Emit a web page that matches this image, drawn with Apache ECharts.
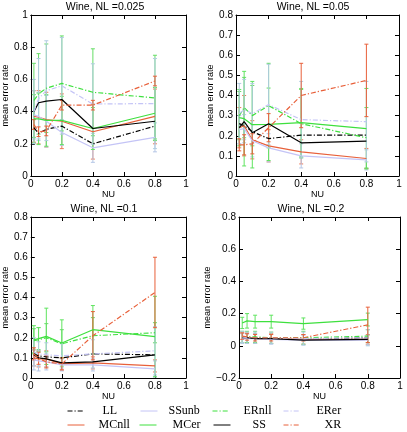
<!DOCTYPE html>
<html><head><meta charset="utf-8">
<script src="https://cdn.jsdelivr.net/npm/echarts@6/dist/echarts.min.js"></script>
<style>html,body{margin:0;padding:0;background:#fff}#c{width:407px;height:432px}</style>
</head><body><div id="c"></div>
<script>
// ---------- data ----------
const NU = [0.02, 0.05, 0.1, 0.2, 0.4, 0.8];
const seriesNames = ['LL', 'MCnll', 'SSunb', 'MCer', 'ERnll', 'SS', 'ERer', 'XR'];
const titles = ['Wine, NL =0.025', 'Wine, NL =0.05', 'Wine, NL =0.1', 'Wine, NL =0.2'];
const xTicks = [0, 0.2, 0.4, 0.6, 0.8, 1];
const yTicksA = [0, 0.2, 0.4, 0.6, 0.8, 1];
const yTicksB = [0, 0.1, 0.2, 0.3, 0.4, 0.5, 0.6, 0.7, 0.8];
const yTicksC = [0, 0.1, 0.2, 0.3, 0.4, 0.5, 0.6, 0.7, 0.8];
const yTicksD = [-0.2, 0, 0.2, 0.4, 0.6, 0.8];

// NL = 0.025 (means)
const LL_1    = [0.30, 0.265, 0.29, 0.31, 0.20, 0.31];
const MCnll_1 = [0.37, 0.365, 0.35, 0.34, 0.275, 0.37];
const SSunb_1 = [0.38, 0.37, 0.34, 0.27, 0.175, 0.24];
const MCer_1  = [0.355, 0.355, 0.345, 0.345, 0.295, 0.39];
const ERnll_1 = [0.47, 0.51, 0.545, 0.575, 0.52, 0.485];
const SS_1    = [0.40, 0.455, 0.465, 0.475, 0.295, 0.34];
const ERer_1  = [0.40, 0.48, 0.53, 0.56, 0.447, 0.45];
const XR_1    = [0.32, 0.275, 0.28, 0.44, 0.44, 0.59];
// NL = 0.025 (error half-widths)
const e_MCnll_1 = [0.16, 0.165, 0.17, 0.17, 0.17, 0.17];
const e_SSunb_1 = [0.15, 0.15, 0.16, 0.08, 0.09, 0.09];
const e_MCer_1  = [0.15, 0.16, 0.16, 0.15, 0.13, 0.16];
const e_ERnll_1 = [0.23, 0.25, 0.275, 0.295, 0.27, 0.265];
const e_ERer_1  = [0.20, 0.25, 0.31, 0.30, 0.25, 0.28];
const e_XR_1    = [0.03, 0.03, 0.03, 0.03, 0.03, 0.03];

// NL = 0.05
const LL_2    = [0.26, 0.25, 0.22, 0.186, 0.203, 0.203];
const MCnll_2 = [0.24, 0.25, 0.18, 0.15, 0.12, 0.087];
const SSunb_2 = [0.23, 0.235, 0.175, 0.14, 0.10, 0.08];
const MCer_2  = [0.29, 0.285, 0.255, 0.257, 0.265, 0.235];
const ERnll_2 = [0.30, 0.34, 0.30, 0.35, 0.26, 0.19];
const SS_2    = [0.24, 0.27, 0.215, 0.26, 0.165, 0.173];
const ERer_2  = [0.31, 0.33, 0.31, 0.355, 0.28, 0.27];
const XR_2    = [0.155, 0.155, 0.16, 0.24, 0.40, 0.475];
const e_MCnll_2 = [0.10, 0.15, 0.095, 0.08, 0.06, 0.05];
const e_SSunb_2 = [0.07, 0.07, 0.08, 0.07, 0.06, 0.05];
const e_MCer_2  = [0.14, 0.235, 0.215, 0.18, 0.17, 0.20];
const e_ERnll_2 = [0.12, 0.15, 0.15, 0.21, 0.17, 0.15];
const e_ERer_2  = [0.15, 0.15, 0.15, 0.20, 0.19, 0.20];
const e_XR_2    = [0.03, 0.05, 0.05, 0.07, 0.16, 0.18];

// NL = 0.1
const LL_3    = [0.12, 0.11, 0.105, 0.10, 0.12, 0.115];
const MCnll_3 = [0.10, 0.095, 0.095, 0.07, 0.075, 0.06];
const SSunb_3 = [0.09, 0.085, 0.08, 0.065, 0.065, 0.045];
const MCer_3  = [0.19, 0.196, 0.207, 0.174, 0.24, 0.206];
const ERnll_3 = [0.185, 0.19, 0.20, 0.17, 0.21, 0.225];
const SS_3    = [0.115, 0.10, 0.095, 0.075, 0.08, 0.115];
const ERer_3  = [0.13, 0.12, 0.115, 0.11, 0.12, 0.135];
const XR_3    = [0.12, 0.098, 0.08, 0.07, 0.21, 0.425];
const e_MCnll_3 = [0.04, 0.04, 0.04, 0.03, 0.03, 0.03];
const e_SSunb_3 = [0.05, 0.05, 0.04, 0.03, 0.03, 0.04];
const e_MCer_3  = [0.07, 0.055, 0.14, 0.115, 0.12, 0.20];
const e_ERnll_3 = [0.06, 0.06, 0.07, 0.07, 0.09, 0.05];
const e_ERer_3  = [0.07, 0.06, 0.06, 0.06, 0.07, 0.12];
const e_XR_3    = [0.03, 0.03, 0.03, 0.03, 0.12, 0.175];

// NL = 0.2
const LL_4    = [0.05, 0.05, 0.05, 0.045, 0.04, 0.05];
const MCnll_4 = [0.05, 0.05, 0.045, 0.045, 0.04, 0.04];
const SSunb_4 = [0.045, 0.045, 0.045, 0.04, 0.035, 0.035];
const MCer_4  = [0.142, 0.155, 0.15, 0.15, 0.138, 0.163];
const ERnll_4 = [0.055, 0.055, 0.055, 0.05, 0.05, 0.06];
const SS_4    = [0.05, 0.05, 0.045, 0.045, 0.035, 0.04];
const ERer_4  = [0.055, 0.05, 0.05, 0.05, 0.045, 0.05];
const XR_4    = [0.06, 0.055, 0.05, 0.05, 0.05, 0.13];
const e_MCnll_4 = [0.03, 0.03, 0.03, 0.03, 0.03, 0.03];
const e_SSunb_4 = [0.03, 0.03, 0.03, 0.03, 0.03, 0.03];
const e_MCer_4  = [0.035, 0.045, 0.04, 0.04, 0.035, 0.04];
const e_ERnll_4 = [0.035, 0.035, 0.035, 0.035, 0.04, 0.04];
const e_ERer_4  = [0.035, 0.035, 0.035, 0.035, 0.04, 0.05];
const e_XR_4    = [0.02, 0.02, 0.02, 0.02, 0.02, 0.11];

const panelMeans = [
  {LL: LL_1, MCnll: MCnll_1, SSunb: SSunb_1, MCer: MCer_1, ERnll: ERnll_1, SS: SS_1, ERer: ERer_1, XR: XR_1},
  {LL: LL_2, MCnll: MCnll_2, SSunb: SSunb_2, MCer: MCer_2, ERnll: ERnll_2, SS: SS_2, ERer: ERer_2, XR: XR_2},
  {LL: LL_3, MCnll: MCnll_3, SSunb: SSunb_3, MCer: MCer_3, ERnll: ERnll_3, SS: SS_3, ERer: ERer_3, XR: XR_3},
  {LL: LL_4, MCnll: MCnll_4, SSunb: SSunb_4, MCer: MCer_4, ERnll: ERnll_4, SS: SS_4, ERer: ERer_4, XR: XR_4}
];
const panelErrs = [
  {MCnll: e_MCnll_1, SSunb: e_SSunb_1, MCer: e_MCer_1, ERnll: e_ERnll_1, ERer: e_ERer_1, XR: e_XR_1},
  {MCnll: e_MCnll_2, SSunb: e_SSunb_2, MCer: e_MCer_2, ERnll: e_ERnll_2, ERer: e_ERer_2, XR: e_XR_2},
  {MCnll: e_MCnll_3, SSunb: e_SSunb_3, MCer: e_MCer_3, ERnll: e_ERnll_3, ERer: e_ERer_3, XR: e_XR_3},
  {MCnll: e_MCnll_4, SSunb: e_SSunb_4, MCer: e_MCer_4, ERnll: e_ERnll_4, ERer: e_ERer_4, XR: e_XR_4}
];
const yTickSets = [yTicksA, yTicksB, yTicksC, yTicksD];

// ---------- styles / layout ----------
const RED = '#e8603a', GREEN = '#3ee03e', LAV = '#c4c4f6', BLACK = '#000';
const DASHDOT = [5, 2, 1.2, 2];
const styleOf = {
  LL:    {color: BLACK, type: DASHDOT, err: '#555'},
  MCnll: {color: RED,   type: 'solid', err: '#ec7a58'},
  SSunb: {color: LAV,   type: 'solid', err: '#b4c6e6'},
  MCer:  {color: GREEN, type: 'solid', err: '#5fe45f'},
  ERnll: {color: GREEN, type: DASHDOT, err: '#66dd66'},
  SS:    {color: BLACK, type: 'solid', err: '#333'},
  ERer:  {color: LAV,   type: DASHDOT, err: '#b0cce0'},
  XR:    {color: RED,   type: DASHDOT, err: '#e8603a'}
};
const grids = [
  {left: 26, top: 15, width: 160, height: 161},
  {left: 236, top: 15, width: 163, height: 161},
  {left: 26, top: 217, width: 160, height: 161},
  {left: 239, top: 217, width: 161, height: 161}
];
const titlePos = [[105, 2], [313, 2], [104, 204], [311, 204]];
const yNameGap = [17, 19, 17, 20];
const SANS = 'Liberation Sans';

function fmt(v) {
  const s = String(Math.round(v * 1000) / 1000);
  return s.replace('-', '\u2212');
}

const xAxis = [], yAxis = [], series = [], title = [];
grids.forEach((g, i) => {
  const yt = yTickSets[i];
  const ymin = yt[0], ymax = yt[yt.length - 1], yint = yt[1] - yt[0];
  const xint = xTicks[1] - xTicks[0];
  const axLine = {show: true, onZero: false, lineStyle: {color: BLACK, width: 1}};
  const tick = {show: true, inside: true, length: 4, lineStyle: {color: BLACK, width: 1}};
  xAxis.push({
    type: 'value', gridIndex: i, min: xTicks[0], max: xTicks[xTicks.length - 1], interval: xint,
    axisLine: axLine, axisTick: tick, splitLine: {show: false},
    axisLabel: {color: BLACK, fontSize: 10, fontFamily: SANS, margin: 3, formatter: fmt},
    name: 'NU', nameLocation: 'middle', nameGap: 13,
    nameTextStyle: {color: BLACK, fontSize: 9, fontFamily: SANS}
  });
  xAxis.push({
    type: 'value', gridIndex: i, position: 'top', min: xTicks[0], max: xTicks[xTicks.length - 1], interval: xint,
    axisLine: axLine, axisTick: tick, splitLine: {show: false}, axisLabel: {show: false}
  });
  yAxis.push({
    type: 'value', gridIndex: i, min: ymin, max: ymax, interval: yint,
    axisLine: axLine, axisTick: tick, splitLine: {show: false},
    axisLabel: {color: BLACK, fontSize: 10, fontFamily: SANS, margin: 3, formatter: fmt},
    name: 'mean error rate', nameLocation: 'middle', nameGap: yNameGap[i], nameRotate: 90,
    nameTextStyle: {color: BLACK, fontSize: 9, fontFamily: SANS}
  });
  yAxis.push({
    type: 'value', gridIndex: i, position: 'right', min: ymin, max: ymax, interval: yint,
    axisLine: axLine, axisTick: tick, splitLine: {show: false}, axisLabel: {show: false}
  });
  title.push({
    text: titles[i], left: titlePos[i][0], top: titlePos[i][1], textAlign: 'center', padding: 0,
    textStyle: {fontSize: 10.5, fontWeight: 'normal', color: BLACK, fontFamily: SANS}
  });

  seriesNames.forEach(name => {
    const st = styleOf[name];
    const means = panelMeans[i][name];
    const errs = panelErrs[i][name];
    if (errs) {
      series.push({
        type: 'custom', xAxisIndex: 2 * i, yAxisIndex: 2 * i, silent: true,
        data: NU.map((x, k) => [x, means[k] - errs[k], means[k] + errs[k]]),
        encode: {x: 0, y: [1, 2]},
        renderItem: (params, api) => {
          const x = api.value(0);
          const lo = api.coord([x, api.value(1)]);
          const hi = api.coord([x, api.value(2)]);
          const s = {stroke: st.err, lineWidth: 1};
          const c = 2;
          return {type: 'group', children: [
            {type: 'line', shape: {x1: lo[0], y1: lo[1], x2: hi[0], y2: hi[1]}, style: s},
            {type: 'line', shape: {x1: lo[0] - c, y1: lo[1], x2: lo[0] + c, y2: lo[1]}, style: s},
            {type: 'line', shape: {x1: hi[0] - c, y1: hi[1], x2: hi[0] + c, y2: hi[1]}, style: s}
          ]};
        }
      });
    }
    series.push({
      name: name, type: 'line', xAxisIndex: 2 * i, yAxisIndex: 2 * i,
      data: NU.map((x, k) => [x, means[k]]),
      symbol: 'none', animation: false,
      lineStyle: {color: st.color, width: 1.2, type: st.type},
      itemStyle: {color: st.color}
    });
  });
});

// legends: one per entry, two rows of four
const legendRows = [['LL', 'SSunb', 'ERnll', 'ERer'], ['MCnll', 'MCer', 'SS', 'XR']];
const legendLineStart = [[67, 140, 212, 283], [67, 139, 213, 283]];
const legendTextStart = [[102, 168, 243, 316], [98, 172, 252, 324]];
const legendTop = [405, 419];
const legend = [];
legendRows.forEach((row, r) => {
  row.forEach((name, c) => {
    const left = legendLineStart[r][c];
    const pad = legendTextStart[r][c] - (left + 17 + 5);
    legend.push({
      data: [name], left: left, top: legendTop[r], padding: 0,
      itemWidth: 17, itemHeight: 10, selectedMode: false,
      itemStyle: {opacity: 0},
      lineStyle: {opacity: 1, width: 1},
      textStyle: {fontFamily: 'Liberation Serif', fontSize: 12, color: BLACK, padding: [0, 0, 0, pad]}
    });
  });
});

const chart = echarts.init(document.getElementById('c'), null, {renderer: 'canvas'});
chart.setOption({
  animation: false,
  backgroundColor: '#fff',
  title: title,
  grid: grids.map(g => Object.assign({containLabel: false}, g)),
  xAxis: xAxis,
  yAxis: yAxis,
  legend: legend,
  series: series
});
</script>
</body></html>
